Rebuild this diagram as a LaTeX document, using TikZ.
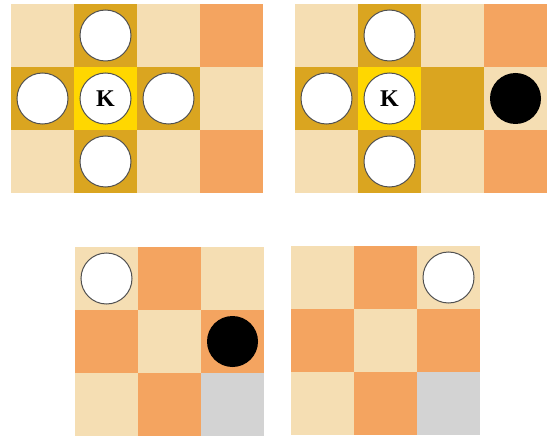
\documentclass[tikz,border=0pt]{standalone}
\usepackage{fontspec}
\setmainfont{Liberation Serif}
\definecolor{lightsq}{HTML}{F5DEB3}
\definecolor{darksq}{HTML}{F4A460}
\definecolor{reachsq}{HTML}{DAA520}
\definecolor{kingsq}{HTML}{FFD700}
\definecolor{blocksq}{HTML}{D3D3D3}
\definecolor{rim}{HTML}{505050}

\begin{document}
\begin{tikzpicture}[x=1pt,y=-1pt]
    \tikzstyle{white piece} = [circle, draw=rim, line width=1pt, fill=white, minimum size=51pt, inner sep=0pt, font=\bfseries\fontsize{24}{24}\selectfont]
    \tikzstyle{black piece} = [circle, fill=black, minimum size=51pt, inner sep=0pt]
    \useasboundingbox (0,0) rectangle (548,438);

    % Board 1 (top left, 4x3) - king can move in all four directions
    \begin{scope}[shift={(11,4)}]
        \foreach \c in {0,...,3}
            \foreach \r in {0,1,2} {
                \pgfmathtruncatemacro{\odd}{mod(\c+\r,2)}
                \ifnum\odd=1
                    \fill[darksq] (63*\c,63*\r) rectangle ++(63,63);
                \else
                    \fill[lightsq] (63*\c,63*\r) rectangle ++(63,63);
                \fi
            }
        % Highlighted squares
        \foreach \c/\r in {1/0, 0/1, 2/1, 1/2}
            \fill[reachsq] (63*\c,63*\r) rectangle ++(63,63);
        \fill[kingsq] (63,63) rectangle ++(63,63);

        % Pieces
        \node[white piece] (a-king) at (94.5,94.5) {K};
        \node[white piece] (a-up) at (94.5,31.5) {};
        \node[white piece] (a-left) at (31.5,94.5) {};
        \node[white piece] (a-right) at (157.5,94.5) {};
        \node[white piece] (a-down) at (94.5,157.5) {};
    \end{scope}

    % Board 2 (top right, 4x3) - black piece beyond an empty square
    \begin{scope}[shift={(295,4)}]
        \foreach \c in {0,...,3}
            \foreach \r in {0,1,2} {
                \pgfmathtruncatemacro{\odd}{mod(\c+\r,2)}
                \ifnum\odd=1
                    \fill[darksq] (63*\c,63*\r) rectangle ++(63,63);
                \else
                    \fill[lightsq] (63*\c,63*\r) rectangle ++(63,63);
                \fi
            }
        \foreach \c/\r in {1/0, 0/1, 2/1, 1/2}
            \fill[reachsq] (63*\c,63*\r) rectangle ++(63,63);
        \fill[kingsq] (63,63) rectangle ++(63,63);

        \node[white piece] (b-king) at (94.5,94.5) {K};
        \node[white piece] (b-up) at (94.5,31.5) {};
        \node[white piece] (b-left) at (31.5,94.5) {};
        \node[white piece] (b-down) at (94.5,157.5) {};
        \node[black piece] (b-black) at (220.5,94.5) {};
    \end{scope}

    % Board 3 (bottom left, 3x3)
    \begin{scope}[shift={(75,247)}]
        \foreach \c in {0,1,2}
            \foreach \r in {0,1,2} {
                \pgfmathtruncatemacro{\odd}{mod(\c+\r,2)}
                \ifnum\odd=1
                    \fill[darksq] (63*\c,63*\r) rectangle ++(63,63);
                \else
                    \fill[lightsq] (63*\c,63*\r) rectangle ++(63,63);
                \fi
            }
        \fill[blocksq] (126,126) rectangle ++(63,63);

        \node[white piece] (c-white) at (31.5,31.5) {};
        \node[black piece] (c-black) at (157.5,94.5) {};
    \end{scope}

    % Board 4 (bottom right, 3x3)
    \begin{scope}[shift={(291,246)}]
        \foreach \c in {0,1,2}
            \foreach \r in {0,1,2} {
                \pgfmathtruncatemacro{\odd}{mod(\c+\r,2)}
                \ifnum\odd=1
                    \fill[darksq] (63*\c,63*\r) rectangle ++(63,63);
                \else
                    \fill[lightsq] (63*\c,63*\r) rectangle ++(63,63);
                \fi
            }
        \fill[blocksq] (126,126) rectangle ++(63,63);

        \node[white piece] (d-white) at (157.5,31.5) {};
    \end{scope}
\end{tikzpicture}
\end{document}
